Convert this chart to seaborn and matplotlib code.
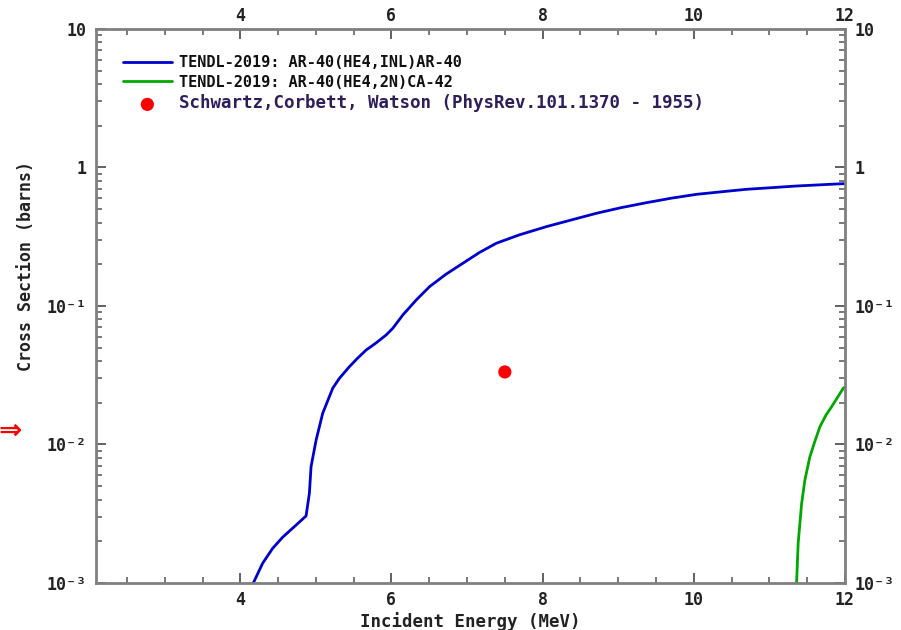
import matplotlib
matplotlib.use("Agg")
import matplotlib.pyplot as plt
import seaborn as sns
import pandas as pd
from matplotlib.ticker import FixedLocator, FuncFormatter, MultipleLocator, NullFormatter

# ---- data ----
inl_energy = [4.172, 4.295, 4.428, 4.560, 4.738, 4.870, 4.914, 4.936, 5.003, 5.090,
              5.223, 5.31, 5.444, 5.55, 5.665, 5.80, 5.930, 6.017, 6.150, 6.327,
              6.503, 6.72, 6.944, 7.16, 7.387, 7.69, 8.049, 8.38, 8.711, 9.04,
              9.374, 9.70, 10.036, 10.37, 10.698, 11.03, 11.36, 11.89, 12.0]
inl_xs = [1.0e-3, 1.387e-3, 1.78e-3, 2.14e-3, 2.62e-3, 3.05e-3, 4.45e-3, 6.92e-3, 0.01077, 0.0168,
          0.0255, 0.0300, 0.0365, 0.0419, 0.0481, 0.0543, 0.0618, 0.069, 0.0861, 0.1104,
          0.1378, 0.1694, 0.2034, 0.2426, 0.2838, 0.326, 0.374, 0.418, 0.467, 0.513,
          0.557, 0.600, 0.640, 0.668, 0.696, 0.715, 0.735, 0.760, 0.765]

n2_energy = [11.36, 11.381, 11.427, 11.470, 11.536, 11.60, 11.669, 11.75, 11.824, 11.978, 12.0]
n2_xs = [1.0e-3, 1.94e-3, 3.76e-3, 5.54e-3, 8.17e-3, 0.01047, 0.01345, 0.01634, 0.01875, 0.0255, 0.026]

exp_energy = [7.5]
exp_xs = [0.0334]

labels = ["TENDL-2019: AR-40(HE4,INL)AR-40",
          "TENDL-2019: AR-40(HE4,2N)CA-42",
          "Schwartz,Corbett, Watson (PhysRev.101.1370 - 1955)"]

x_major = [4, 6, 8, 10, 12]
y_major = [1e-3, 1e-2, 1e-1, 1, 10]
y_labels = ["10\u207b\u00b3", "10\u207b\u00b2", "10\u207b\u00b9", "1", "10"]

# ---- style ----
sns.set_style("ticks")
plt.rcParams["font.family"] = ["DejaVu Sans Mono", "DejaVu Sans"]
plt.rcParams["font.weight"] = "bold"

fig = plt.figure(figsize=(9.01, 6.30), dpi=100)
ax = fig.add_axes([0.1065, 0.0746, 0.8313, 0.8794])

df_inl = pd.DataFrame({"E": inl_energy, "xs": inl_xs})
df_n2 = pd.DataFrame({"E": n2_energy, "xs": n2_xs})
df_exp = pd.DataFrame({"E": exp_energy, "xs": exp_xs})

sns.lineplot(data=df_inl, x="E", y="xs", ax=ax, color="#0000cc", linewidth=2.0,
             sort=False, estimator=None, label=labels[0])
sns.lineplot(data=df_n2, x="E", y="xs", ax=ax, color="#00a800", linewidth=2.0,
             sort=False, estimator=None, label=labels[1])
sns.scatterplot(data=df_exp, x="E", y="xs", ax=ax, color="#ff0000", s=90,
                edgecolor="none", label=labels[2], zorder=5)

ax.set_yscale("log")
ax.set_xlim(2.09, 12.0)
ax.set_ylim(1e-3, 10)

ax.xaxis.set_major_locator(FixedLocator(x_major))
ax.xaxis.set_minor_locator(MultipleLocator(0.5))
ax.yaxis.set_major_locator(FixedLocator(y_major))
minors = [m * 10.0 ** d for d in range(-3, 1) for m in range(2, 10)]
ax.yaxis.set_minor_locator(FixedLocator(minors))
ax.yaxis.set_minor_formatter(NullFormatter())
ylab_map = dict(zip(y_major, y_labels))
ax.yaxis.set_major_formatter(FuncFormatter(lambda v, p: ylab_map.get(min(y_major, key=lambda t: abs(t - v)), "")))
ax.xaxis.set_major_formatter(FuncFormatter(lambda v, p: f"{int(round(v))}"))

ax.tick_params(which="both", direction="in", top=True, right=True,
               labeltop=False, labelright=True, colors="#222222", labelsize=12)
ax.tick_params(which="major", length=7, width=1.3, color="#555555")
ax.tick_params(which="minor", length=4, width=1.1, color="#555555")
ax.tick_params(axis="y", which="major", pad=7)
ax.tick_params(axis="x", which="major", pad=6)

# top tick labels, a bit closer to the frame than the bottom ones
sec = ax.secondary_xaxis("top")
sec.xaxis.set_major_locator(FixedLocator(x_major))
sec.xaxis.set_major_formatter(FuncFormatter(lambda v, p: f"{int(round(v))}"))
sec.tick_params(which="both", length=0, pad=3, labelsize=12, colors="#222222")
sec.spines["top"].set_visible(False)

for sp in ax.spines.values():
    sp.set_color("#808080")
    sp.set_linewidth(2.0)

ax.set_xlabel("Incident Energy (MeV)", fontsize=12.5, fontweight="bold", color="#222222")
ax.set_ylabel("Cross Section (barns)", fontsize=12, fontweight="bold", color="#222222")
ax.xaxis.set_label_coords(0.5, -0.052)
ax.yaxis.set_label_coords(-0.081, 0.572)

leg = ax.legend(loc="upper left", bbox_to_anchor=(0.036, 0.9526), frameon=False,
                borderpad=0, borderaxespad=0, handlelength=3.2, handletextpad=0.5,
                labelspacing=0.3, prop={"family": "DejaVu Sans Mono", "weight": "bold", "size": 11})
texts = leg.get_texts()
texts[0].set_color("#111111")
texts[1].set_color("#111111")
texts[2].set_color("#2e1f5c")
texts[2].set_fontsize(12.6)

fig.text(-0.002, 0.317, "\u21d2", color="#ff0000", fontsize=20, fontweight="bold",
         ha="left", va="center", family="DejaVu Sans")

fig.savefig("out.png", dpi=100)
